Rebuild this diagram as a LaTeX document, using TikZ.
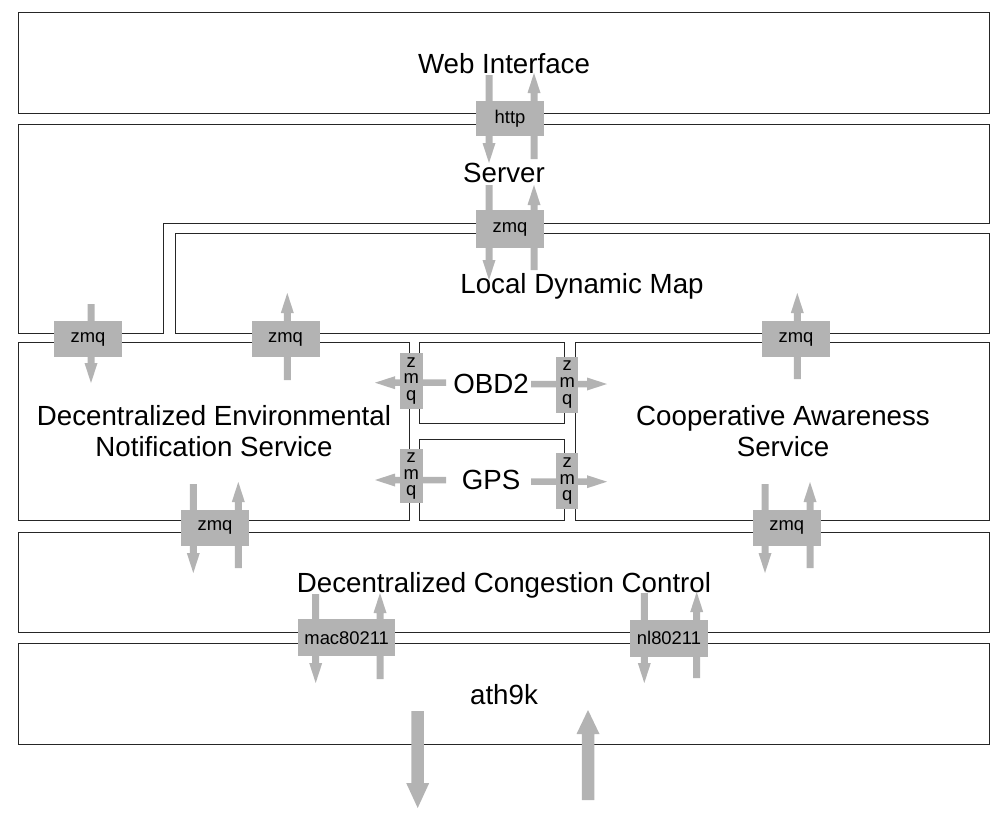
\documentclass[tikz,border=0pt]{standalone}
\usepackage{fontspec}
\setmainfont{Liberation Sans}
\definecolor{conngray}{RGB}{179,179,179}
\newcommand\vArrow[6]{%
  \pgfmathsetmacro\arrhb{#3>#2 ? #3-#6 : #3+#6}%
  \fill[conn] (#1-#4/2,#2) -- (#1-#4/2,\arrhb) -- (#1-#5/2,\arrhb) -- (#1,#3)
    -- (#1+#5/2,\arrhb) -- (#1+#4/2,\arrhb) -- (#1+#4/2,#2) -- cycle;}
\newcommand\hArrow[6]{%
  \pgfmathsetmacro\arrhb{#3>#2 ? #3-#6 : #3+#6}%
  \fill[conn] (#2,#1-#4/2) -- (\arrhb,#1-#4/2) -- (\arrhb,#1-#5/2) -- (#3,#1)
    -- (\arrhb,#1+#5/2) -- (\arrhb,#1+#4/2) -- (#2,#1+#4/2) -- cycle;}
\newcommand\sv[3]{\vArrow{#1}{#2}{#3}{7}{13}{20}}
\newcommand\sh[3]{\hArrow{#1}{#2}{#3}{6.5}{13}{20}}
\begin{document}
\begin{tikzpicture}[x=1pt,y=-1pt,
  layer/.style={draw=black!85,line width=1pt},
  conn/.style={fill=conngray},
  big/.style={font=\fontsize{27.7}{30}\selectfont,anchor=base,align=center,inner sep=0pt},
  gbox/.style={fill=conngray,inner sep=0pt,font=\fontsize{18.4}{20}\selectfont,minimum height=36pt},
  vbox/.style={fill=conngray,inner sep=0pt,font=\fontsize{18.4}{16.7}\selectfont,align=center,minimum width=22.5pt,minimum height=56pt}]
\useasboundingbox (0,0) rectangle (1006,819);
% layers
\draw[layer] (18,12) rectangle (989,113);
\draw[layer] (18,124) -- (989,124) -- (989,223) -- (163,223) -- (163,333) -- (18,333) -- cycle;
\draw[layer] (175,233) rectangle (989,333);
\draw[layer] (18,342) rectangle (409,520);
\draw[layer] (419,342) rectangle (564,423);
\draw[layer] (419,439) rectangle (564,520);
\draw[layer] (575,342) rectangle (989,520);
\draw[layer] (18,532) rectangle (989,632);
\draw[layer] (18,643) rectangle (989,744);
% labels
\node[big] (web) at (504,73) {Web Interface};
\node[big] (srv) at (504,182) {Server};
\node[big] (ldm) at (582,293) {Local Dynamic Map};
\node[big,anchor=base] (denm) at (214,425.7) {Decentralized Environmental};
\node[big,anchor=base] (denm2) at (214,456) {Notification Service};
\node[big,anchor=base] (cas) at (783,425.7) {Cooperative Awareness};
\node[big,anchor=base] (cas2) at (783,456) {Service};
\node[big] (obd) at (491,393.3) {OBD2};
\node[big] (gps) at (491,489.3) {GPS};
\node[big] (dcc) at (504,592.7) {Decentralized Congestion Control};
\node[big] (ath) at (504,704) {ath9k};
% arrows
\sv{489}{75}{163}   \sv{534}{159}{73}
\sv{489}{185}{280}  \sv{534}{270}{185}
\sv{91}{304}{383}
\sv{287.3}{380}{293}
\sv{797.3}{379}{293}
\sv{193.3}{484}{573} \sv{238.3}{568}{482}
\sv{765}{484}{573}   \sv{810}{568}{482}
\sv{315.7}{594}{683} \sv{380}{679}{593}
\sv{644.3}{593}{683} \sv{696.7}{678}{592}
\vArrow{417.7}{711}{808}{12.5}{23}{25}
\vArrow{588}{800}{710}{12.5}{23}{24}
\sh{382.7}{446}{375}
\sh{384}{531}{607}
\sh{480}{446}{375}
\sh{481.7}{531}{607}
% connector boxes
\node[gbox,minimum width=68pt,minimum height=35pt] (http) at (510,118.5) {http};
\node[gbox,minimum width=68pt,minimum height=38pt] (zsrv) at (510,229) {zmq};
\node[gbox,minimum width=68pt] (zd1) at (88,339) {zmq};
\node[gbox,minimum width=68pt] (zd2) at (285.5,339) {zmq};
\node[gbox,minimum width=68pt] (zc1) at (796,339) {zmq};
\node[gbox,minimum width=68pt] (zd3) at (215,527.5) {zmq};
\node[gbox,minimum width=68pt] (zc3) at (786.7,527.7) {zmq};
\node[gbox,minimum width=96.7pt,minimum height=36.7pt] (mac) at (346.7,637.7) {mac80211};
\node[gbox,minimum width=78.3pt,minimum height=37pt] (nl) at (669,638) {nl80211};
\node[vbox] (zo1) at (411.3,381) {z\\m\\q};
\node[vbox] (zo2) at (567.2,384.7) {z\\m\\q};
\node[vbox,minimum height=54pt] (zg1) at (411.3,476.3) {z\\m\\q};
\node[vbox] (zg2) at (567.2,481.2) {z\\m\\q};
\end{tikzpicture}
\end{document}
